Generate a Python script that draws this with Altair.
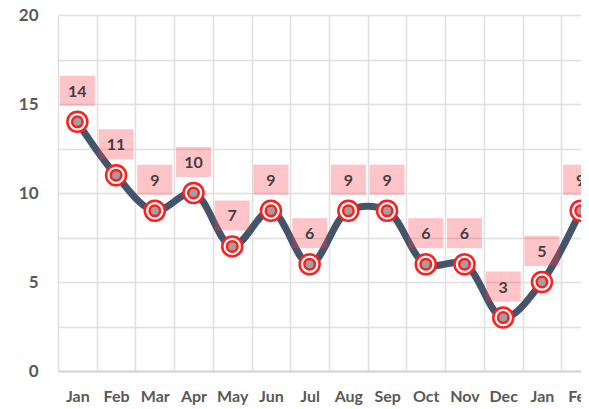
import json
import altair as alt
import pandas as pd

months = ["Jan", "Feb", "Mar", "Apr", "May", "Jun", "Jul", "Aug", "Sep", "Oct", "Nov", "Dec", "Jan", "Feb"]
values = [14, 11, 9, 10, 7, 9, 6, 9, 9, 6, 6, 3, 5, 9]
y_ticks = [0, 2.5, 5, 7.5, 10, 12.5, 15, 17.5, 20]

df = pd.DataFrame({"idx": list(range(len(months))), "month": months, "value": values})

FONT = "Lato"
label_expr = json.dumps(months) + "[datum.value]"

x = alt.X("idx:O", title=None,
          scale=alt.Scale(paddingInner=0, paddingOuter=0, range=[0, 542]),
          axis=alt.Axis(labelExpr=label_expr, labelAngle=0, ticks=False, tickSize=0,
                        tickBand="extent", grid=True, gridColor="#E0E0E0", gridWidth=1.5,
                        domain=True, domainColor="#D4D4D4", domainWidth=2,
                        labelFont=FONT, labelFontSize=16, labelFontWeight="bold",
                        labelColor="#595959", labelPadding=17))
y = alt.Y("value:Q", title=None,
          scale=alt.Scale(domain=[0, 20], nice=False),
          axis=alt.Axis(values=y_ticks, labelExpr="datum.value % 5 == 0 ? datum.label : ''",
                        ticks=False, domain=False, grid=True, gridColor="#E0E0E0", gridWidth=1.5,
                        labelFont=FONT, labelFontSize=17, labelFontWeight="bold",
                        labelColor="#595959", labelPadding=20))

base = alt.Chart(df)

line = base.mark_line(color="#44546A", strokeWidth=7, interpolate="catmull-rom").encode(x=x, y=y)

boxes = base.transform_calculate(
    lo="datum.value + 0.9", hi="datum.value + 2.585"
).mark_bar(width=35, fill="#FF3B4A", opacity=0.3).encode(
    x=x, y=alt.Y("lo:Q", scale=alt.Scale(domain=[0, 20], nice=False)), y2="hi:Q")

outer = base.mark_point(shape="circle", size=400, filled=False, fill="white", fillOpacity=1,
                        stroke="#FF1E1E", strokeWidth=2.5, opacity=1).encode(x=x, y=y)
inner = base.mark_point(shape="circle", size=110, filled=True, fill="#A0A0A0",
                        stroke="#FF1E1E", strokeWidth=2.5, opacity=1).encode(x=x, y=y)

text = base.mark_text(dy=-30, font=FONT, fontSize=16, fontWeight="bold", color="#404040",
                      baseline="middle").encode(x=x, y=y, text="value:Q")

chart = alt.layer(line, boxes, outer, inner, text).properties(
    width=523, height=356,
    autosize=alt.AutoSizeParams(type="none"),
    padding={"left": 50, "top": 7, "right": 0, "bottom": 36},
).configure_view(stroke=None, clip=False)

chart.save("out.html", embed_options={"renderer": "svg", "actions": False})
